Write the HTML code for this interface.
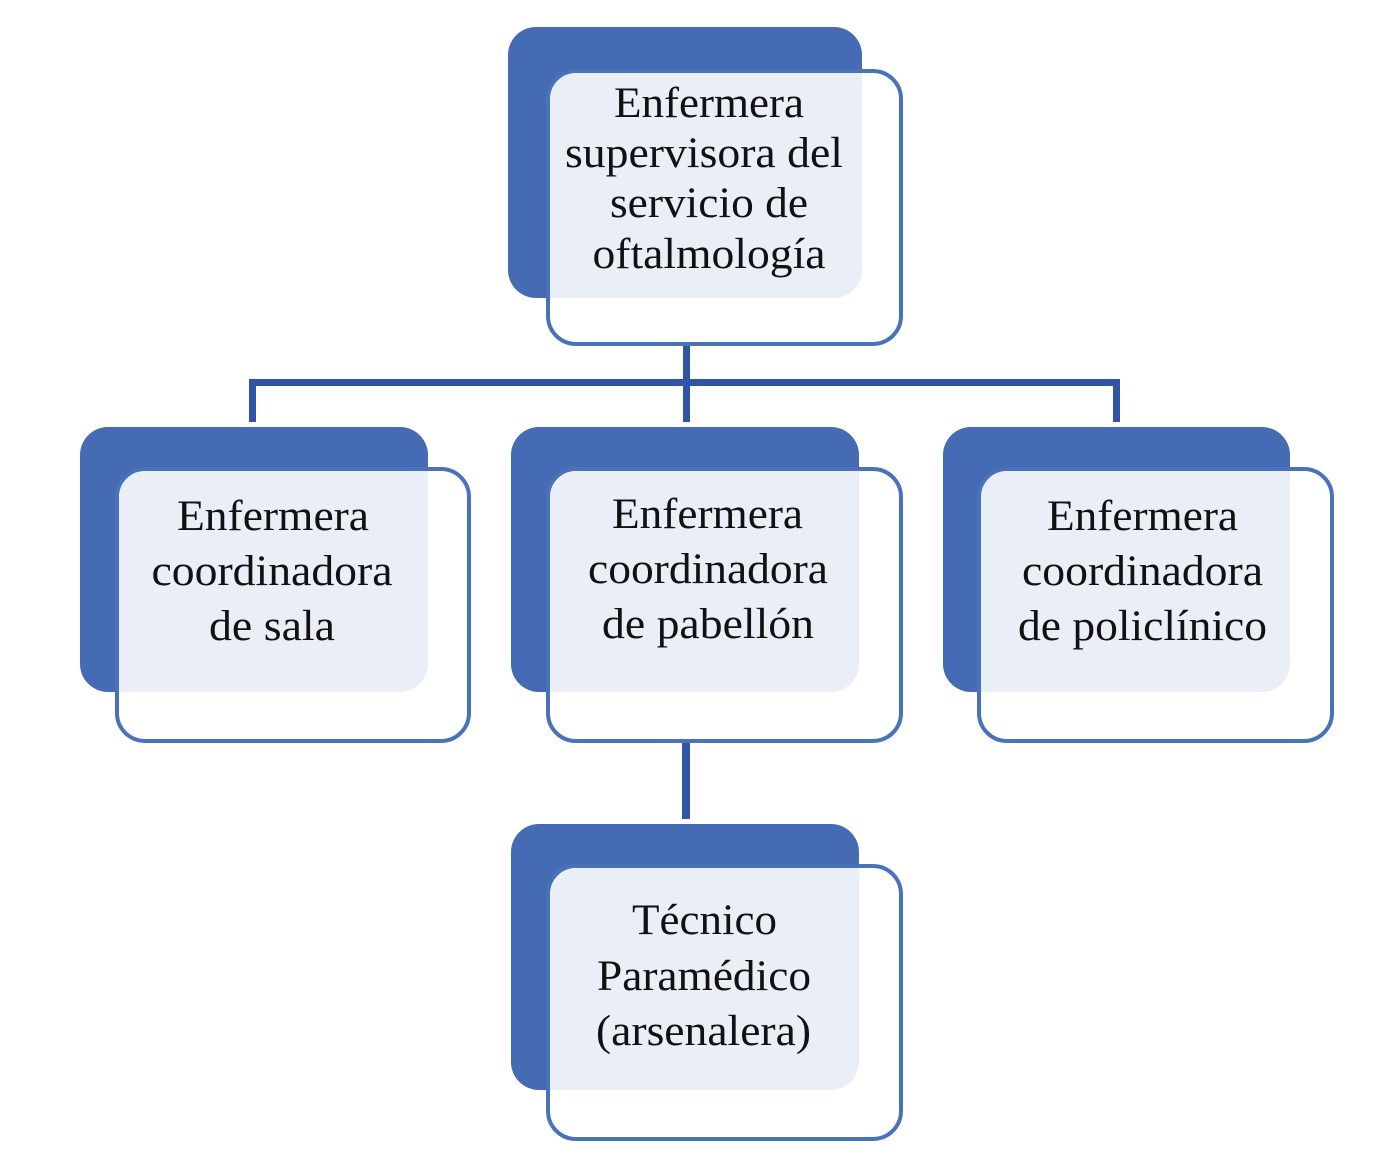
<!DOCTYPE html>
<html><head><meta charset="utf-8"><style>
html,body{margin:0;padding:0;background:#fff}
svg text{font-family:"Liberation Serif",serif;font-size:43px;fill:#111;text-anchor:middle}
</style></head><body>
<svg width="1398" height="1168" viewBox="0 0 1398 1168" xmlns="http://www.w3.org/2000/svg">
<rect x="683" y="300" width="7" height="46" fill="#e6ebf5"/>
<rect x="683" y="345" width="7" height="77" fill="#2f55a4"/>
<rect x="249" y="379" width="871" height="7" fill="#2f55a4"/>
<rect x="249" y="379" width="7" height="43" fill="#2f55a4"/>
<rect x="1113" y="379" width="7" height="43" fill="#2f55a4"/>
<rect x="682" y="700" width="8" height="42" fill="#e6ebf5"/>
<rect x="682" y="742" width="8" height="77" fill="#2f55a4"/>

<rect x="508" y="27" width="354" height="271" rx="28" fill="#446bb3"/>
<rect x="548" y="71" width="353" height="273" rx="28" fill="#fff" stroke="#4a72bb" stroke-width="4"/>
<path d="M575 73 H862 V270 A28 28 0 0 1 834 298 H550 V100 A27 27 0 0 1 575 73Z" fill="#e9eef7"/>
<text x="709" y="117" textLength="190" lengthAdjust="spacingAndGlyphs">Enfermera</text>
<text x="704" y="167" textLength="278" lengthAdjust="spacingAndGlyphs">supervisora del</text>
<text x="709" y="217" textLength="198" lengthAdjust="spacingAndGlyphs">servicio de</text>
<text x="709" y="268" textLength="233" lengthAdjust="spacingAndGlyphs">oftalmología</text>

<rect x="80" y="427" width="348" height="265" rx="28" fill="#446bb3"/>
<rect x="117" y="469" width="352" height="272" rx="28" fill="#fff" stroke="#4a72bb" stroke-width="4"/>
<path d="M144 471 H428 V664 A28 28 0 0 1 400 692 H119 V498 A27 27 0 0 1 144 471Z" fill="#e9eef7"/>
<text x="273" y="530" textLength="192" lengthAdjust="spacingAndGlyphs">Enfermera</text>
<text x="272" y="585" textLength="241" lengthAdjust="spacingAndGlyphs">coordinadora</text>
<text x="272" y="640" textLength="126" lengthAdjust="spacingAndGlyphs">de sala</text>

<rect x="511" y="427" width="348" height="265" rx="28" fill="#446bb3"/>
<rect x="548" y="469" width="353" height="272" rx="28" fill="#fff" stroke="#4a72bb" stroke-width="4"/>
<path d="M575 471 H859 V664 A28 28 0 0 1 831 692 H550 V498 A27 27 0 0 1 575 471Z" fill="#e9eef7"/>
<text x="707.5" y="528" textLength="191" lengthAdjust="spacingAndGlyphs">Enfermera</text>
<text x="708" y="583" textLength="240" lengthAdjust="spacingAndGlyphs">coordinadora</text>
<text x="708" y="638" textLength="212" lengthAdjust="spacingAndGlyphs">de pabellón</text>

<rect x="943" y="427" width="347" height="265" rx="28" fill="#446bb3"/>
<rect x="979" y="469" width="353" height="272" rx="28" fill="#fff" stroke="#4a72bb" stroke-width="4"/>
<path d="M1006 471 H1290 V664 A28 28 0 0 1 1262 692 H981 V498 A27 27 0 0 1 1006 471Z" fill="#e9eef7"/>
<text x="1142.5" y="530" textLength="191" lengthAdjust="spacingAndGlyphs">Enfermera</text>
<text x="1142.5" y="585" textLength="241" lengthAdjust="spacingAndGlyphs">coordinadora</text>
<text x="1142.5" y="640" textLength="249" lengthAdjust="spacingAndGlyphs">de policlínico</text>

<rect x="511" y="824" width="348" height="266" rx="28" fill="#446bb3"/>
<rect x="548" y="866" width="353" height="273" rx="28" fill="#fff" stroke="#4a72bb" stroke-width="4"/>
<path d="M575 868 H859 V1062 A28 28 0 0 1 831 1090 H550 V895 A27 27 0 0 1 575 868Z" fill="#e9eef7"/>
<text x="704.5" y="934" textLength="145" lengthAdjust="spacingAndGlyphs">Técnico</text>
<text x="704" y="990" textLength="214" lengthAdjust="spacingAndGlyphs">Paramédico</text>
<text x="703.5" y="1045" textLength="215" lengthAdjust="spacingAndGlyphs">(arsenalera)</text>
</svg>
</body></html>
